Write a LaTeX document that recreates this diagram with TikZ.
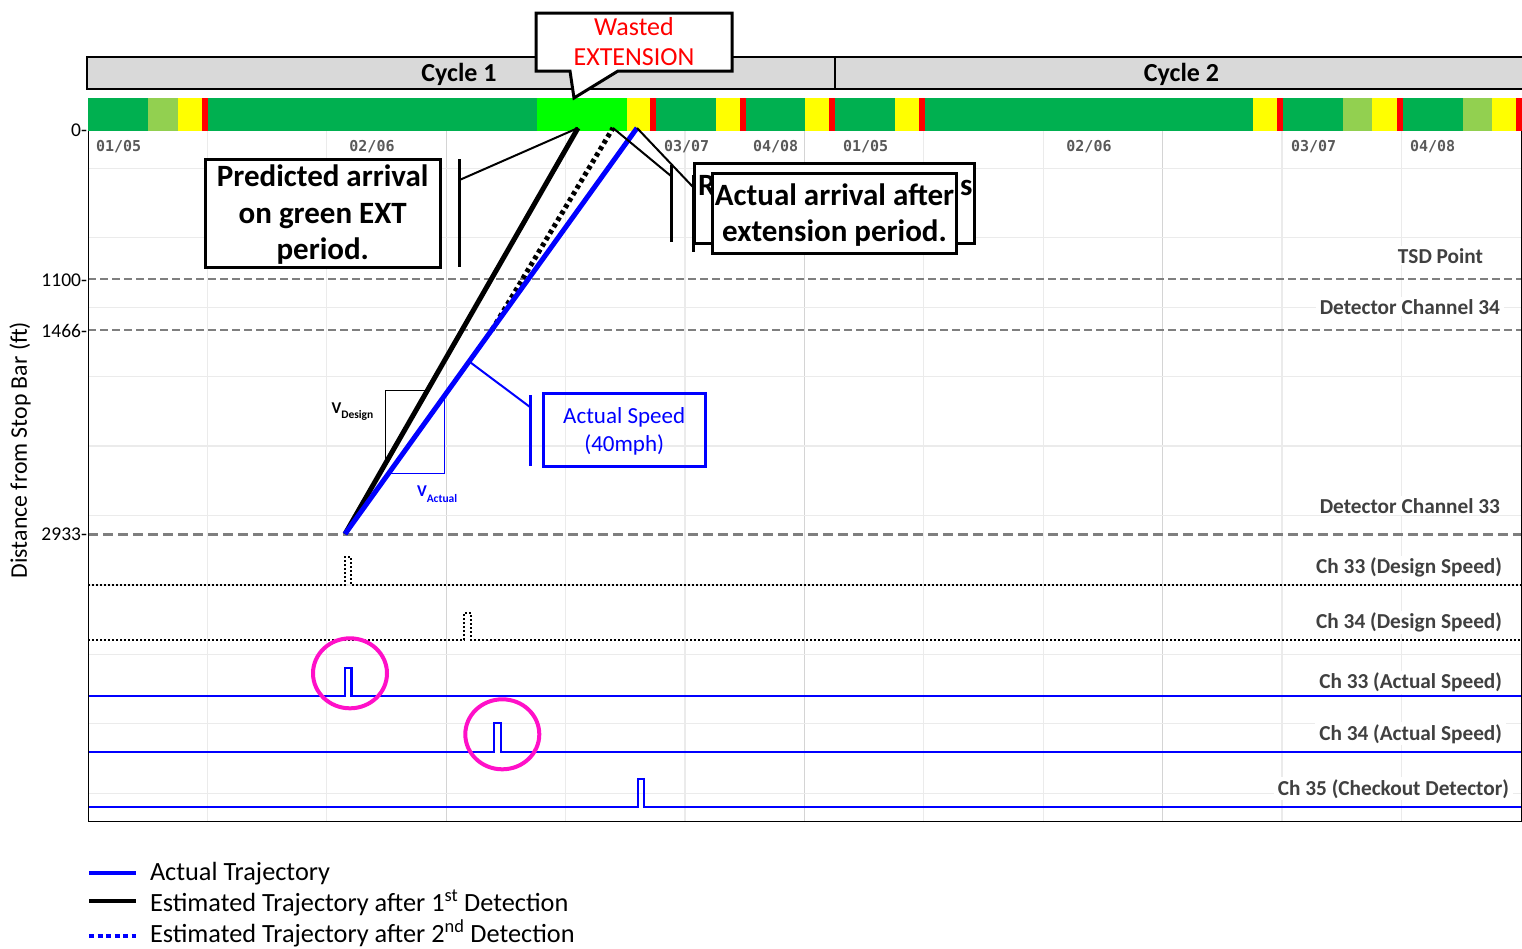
\documentclass[tikz,border=0pt]{standalone}
\usepackage{fontspec}
\setmainfont{Carlito}
\newfontfamily\monofont{DejaVu Sans Mono}
\usetikzlibrary{calc}
\definecolor{sgreen}{HTML}{00B050}
\definecolor{lgreen}{HTML}{92D050}
\definecolor{bgreen}{HTML}{00FF00}
\definecolor{syellow}{HTML}{FFFF00}
\definecolor{sred}{HTML}{FF0000}
\definecolor{gridc}{HTML}{EBEBEB}
\definecolor{gridd}{HTML}{D4D4D4}
\definecolor{dashc}{HTML}{7F7F7F}
\definecolor{labc}{HTML}{404040}
\definecolor{datec}{HTML}{595959}
\definecolor{cyclec}{HTML}{D9D9D9}
\definecolor{tblue}{HTML}{0000FF}
\definecolor{hotpink}{HTML}{FF10C8}
\begin{document}
\begin{tikzpicture}[x=1pt,y=-1pt,
  every node/.style={inner sep=0pt, outer sep=0pt},
  cyclab/.style={font=\fontsize{26}{26}\selectfont\bfseries, anchor=base},
  datelab/.style={font=\monofont\fontsize{15}{15}\selectfont\bfseries, text=datec, anchor=base west},
  rlab/.style={font=\fontsize{21.3}{21.3}\selectfont\bfseries, text=labc, fill=white, anchor=base east, inner xsep=4pt, inner ysep=2pt},
  ytick/.style={font=\fontsize{19.5}{19.5}\selectfont, anchor=base east},
  calltext/.style={font=\fontsize{31}{31}\selectfont\bfseries, anchor=base},
  legtext/.style={font=\fontsize{26.3}{26.3}\selectfont, anchor=base west},
  gridline/.style={gridc, line width=1.3pt},
  gridstrong/.style={gridd, line width=1.3pt},
  levelline/.style={dashc, line width=2pt, dash pattern=on 8pt off 4pt},
  designpulse/.style={black, line width=1.6pt, dash pattern=on 1.6pt off 2.4pt},
  actualpulse/.style={tblue, line width=2.5pt},
  traj/.style={line width=5pt},
  calloutline/.style={black, line width=2pt},
  calloutbar/.style={black, line width=3pt},
  boxframe/.style={draw, line width=3pt, fill=white},
  ring/.style={hotpink, line width=4pt},
  legline/.style={line width=4pt}
]
\useasboundingbox (0,0) rectangle (1522,948);

% ---------- grid ----------
\foreach \k in {1,2,4,5,7,8,10,11}
  \draw[gridline] ({88+119.4*\k},131) -- ({88+119.4*\k},821);
\foreach \k in {3,6,9}
  \draw[gridstrong] ({88+119.4*\k},131) -- ({88+119.4*\k},821);
\foreach \k in {0,...,9}
  \draw[gridline] (88,{168.3+69.44*\k}) -- (1521,{168.3+69.44*\k});

% ---------- reference distances ----------
\draw[levelline] (88,279) -- (1521,279);
\draw[levelline] (88,330) -- (1521,330);
\draw[dashc, line width=3pt, dash pattern=on 10pt off 5pt] (88,534) -- (1521,534);

% ---------- detector channel states ----------
\draw[designpulse] (88,585) -- (345,585) -- (345,557) -- (351,557) -- (351,585) -- (1521,585);
\draw[designpulse] (88,640) -- (464,640) -- (464,613) -- (471,613) -- (471,640) -- (1521,640);
\draw[actualpulse] (88,696) -- (345,696) -- (345,668) -- (351.5,668) -- (351.5,696) -- (1521,696);
\draw[actualpulse] (88,752) -- (494,752) -- (494,723) -- (501,723) -- (501,752) -- (1521,752);
\draw[actualpulse] (88,807) -- (638,807) -- (638,779) -- (644,779) -- (644,807) -- (1521,807);

% ---------- signal phase bar ----------
\foreach \a/\b/\c in {88/148/sgreen,148/178/lgreen,178/202/syellow,202/208/sred,
  208/537/sgreen,537/627/bgreen,627/650/syellow,650/656/sred,656/716/sgreen,
  716/740/syellow,740/746/sred,746/805/sgreen,805/829/syellow,829/835/sred,
  835/895/sgreen,895/919/syellow,919/925/sred,925/1253/sgreen,1253/1277/syellow,
  1277/1283/sred,1283/1343/sgreen,1343/1372/lgreen,1372/1397/syellow,1397/1403/sred,
  1403/1463/sgreen,1463/1492/lgreen,1492/1516/syellow,1516/1522/sred}
  \fill[\c] (\a,98) rectangle (\b,131);

% ---------- cycle headers ----------
\draw[fill=cyclec, line width=2pt] (87,57) rectangle (835,89);
\draw[fill=cyclec, line width=2pt] (835,57) rectangle (1530,89);
\node[cyclab] (cyc1) at (459,81.7) {Cycle 1};
\node[cyclab] (cyc2) at (1181.5,81.7) {Cycle 2};

% ---------- axes ----------
\draw[black, line width=1pt] (88,131) -- (88,821) -- (1521,821) -- (1521,131);

% phase labels
\node[datelab] (p1a) at (96,151.5) {01/05};
\node[datelab, anchor=base] (p2a) at (372,151.5) {02/06};
\node[datelab] (p3a) at (664,151.5) {03/07};
\node[datelab] (p4a) at (753,151.5) {04/08};
\node[datelab] (p1b) at (843,151.5) {01/05};
\node[datelab, anchor=base] (p2b) at (1089,151.5) {02/06};
\node[datelab] (p3b) at (1291,151.5) {03/07};
\node[datelab] (p4b) at (1410,151.5) {04/08};

% distance ticks
\node[ytick] (t0) at (87,136.5) {0-};
\node[ytick] (t1100) at (87,286) {1100-};
\node[ytick] (t1466) at (87,337) {1466-};
\node[ytick] (t2933) at (87,540.5) {2933-};
\node[rotate=90, font=\fontsize{23.8}{23.8}\selectfont] (ytitle) at (20,450) {Distance from Stop Bar (ft)};

% line labels
\node[rlab] (lTSD) at (1487,263.3) {TSD Point};
\node[rlab] (lD34) at (1504,314) {Detector Channel 34};
\node[rlab] (lD33) at (1504,513.3) {Detector Channel 33};
\node[rlab] (lC33d) at (1506,573.3) {Ch 33 (Design Speed)};
\node[rlab] (lC34d) at (1506,628.3) {Ch 34 (Design Speed)};
\node[rlab] (lC33a) at (1506,688.3) {Ch 33 (Actual Speed)};
\node[rlab] (lC34a) at (1506,740) {Ch 34 (Actual Speed)};
\node[rlab] (lC35) at (1513,795) {Ch 35 (Checkout Detector)};

% ---------- trajectories ----------
\coordinate (det33) at (345,534);
\coordinate (estEnd) at (578,128);
\coordinate (actEnd) at (637,128);
\coordinate (det34) at (492,330);
\coordinate (est2End) at (613,128);

% speed triangles
\draw[black, line width=1pt] (385,464.3) -- (385,390) -- (427.6,390);
\draw[tblue, line width=1pt] (444.3,396.4) -- (444.3,473.3) -- (388.7,473.3);
\node[anchor=base west, font=\bfseries] (vdes) at (331.5,413.3)
  {\fontsize{16.5}{16.5}\selectfont V\raisebox{-5pt}{\fontsize{11.5}{11.5}\selectfont Design}};
\node[anchor=base west, font=\bfseries, text=tblue] (vact) at (417,496.7)
  {\fontsize{16.5}{16.5}\selectfont V\raisebox{-6pt}{\fontsize{11.5}{11.5}\selectfont Actual}};

\draw[traj, black, dash pattern=on 4pt off 3.5pt] (det34) -- (est2End);
\draw[traj, black] (det33) -- (estEnd);
\draw[traj, tblue] (det33) -- (actEnd);

% ---------- callouts ----------
% predicted arrival
\node[boxframe, minimum width=234.5pt, minimum height=108pt] (predbox) at (322.75,213) {};
\node[calltext] at (322.75,186.7) {Predicted arrival};
\node[calltext] at (322.75,223.2) {on green EXT};
\node[calltext] at (322.75,259.7) {period.};
\coordinate (predElbow) at (459.5,180);
\draw[calloutline] (estEnd) -- (predElbow);
\draw[calloutbar] (459.5,159) -- (459.5,267);

% actual arrival (two stacked boxes)
\coordinate (backElbow) at (671,176);
\draw[calloutline] (est2End) -- (backElbow);
\draw[calloutbar] (671,165) -- (671,242);
\coordinate (frontElbow) at (693,187);
\draw[calloutline] (actEnd) -- (frontElbow);
\draw[calloutbar] (693,175) -- (693,252);
\node[boxframe, minimum width=280pt, minimum height=80pt] (backbox) at (834.5,203) {};
\node[calltext, anchor=base west] (backR) at (698,195) {R};
\node[calltext, anchor=base east] (backS) at (972.5,195) {s};
\node[boxframe, minimum width=244pt, minimum height=80pt] (frontbox) at (834.5,213) {};
\node[calltext] at (834.5,205) {Actual arrival after};
\node[calltext] at (834.5,241) {extension period.};

% actual speed
\coordinate (speedTip) at ($(det33)!0.425!(actEnd)$);
\coordinate (speedElbow) at (530,407);
\draw[tblue, line width=2pt] (speedTip) -- (speedElbow);
\draw[tblue, line width=3pt] (530,395) -- (530,466);
\node[draw=tblue, line width=3pt, minimum width=161.7pt, minimum height=73.4pt] (speedbox) at (624.2,430) {};
\node[anchor=base, text=tblue, font=\fontsize{23}{23}\selectfont] at (624.2,423.3) {Actual Speed};
\node[anchor=base, text=tblue, font=\fontsize{23}{23}\selectfont] at (624.2,451.7) {(40mph)};

% wasted extension
\draw[line width=3pt, fill=white, line join=miter]
  (536,13) -- (732,13) -- (732,71) -- (618,71) -- (574,98) -- (570,71) -- (536,71) -- cycle;
\node[anchor=base, text=sred, font=\fontsize{26}{26}\selectfont] (wasted1) at (634,35) {Wasted};
\node[anchor=base, text=sred, font=\fontsize{26}{26}\selectfont] (wasted2) at (634,65.7) {EXTENSION};

% detection highlights
\draw[ring] (350,673.3) ellipse [x radius=37pt, y radius=35pt];
\draw[ring] (502.3,734.3) ellipse [x radius=37pt, y radius=35pt];

% ---------- legend ----------
\draw[legline, tblue] (89,873) -- (136,873);
\draw[legline, black] (89,901) -- (136,901);
\draw[legline, tblue, dash pattern=on 5pt off 3.5pt] (89,936) -- (136,936);
\node[legtext] (leg1) at (150,880) {Actual Trajectory};
\node[legtext] (leg2) at (150,911) {Estimated Trajectory after 1\textsuperscript{st} Detection};
\node[legtext] (leg3) at (150,942) {Estimated Trajectory after 2\textsuperscript{nd} Detection};
\end{tikzpicture}
\end{document}
